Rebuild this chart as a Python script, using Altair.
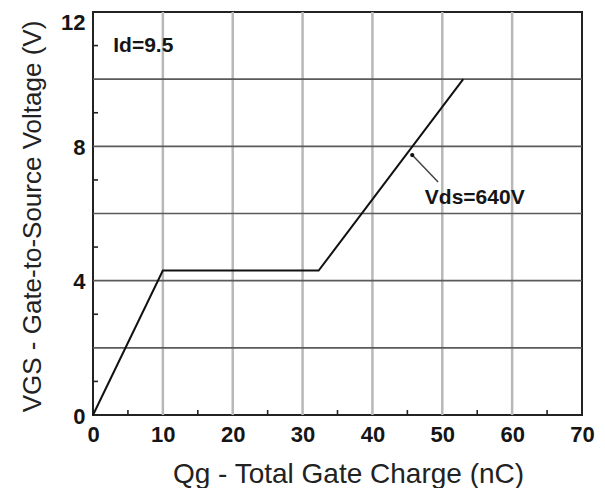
import altair as alt
import pandas as pd

# ---- data ----
qg = [0, 10, 32.3, 53]          # nC
vgs = [0, 4.3, 4.3, 10]         # V

x_ticks = [0, 10, 20, 30, 40, 50, 60, 70]
y_ticks = [0, 4, 8, 12]
x_grid = [10, 20, 30, 40, 50, 60]
y_grid = [2, 4, 6, 8, 10]
x_minor = [5, 15, 25, 35, 45, 55, 65]
y_minor = [1, 3, 5, 7, 9, 11]

ann_text = ["Id=9.5", "Vds=640V"]
ann_x = [2.9, 47.5]
ann_y = [11.0, 6.46]

leader_x = [49.4, 45.7]
leader_y = [6.94, 7.74]

FONT = "Liberation Sans"
W, H = 489, 403
TICK = 5

xs = alt.Scale(domain=[0, 70], nice=False, zero=False)
ys = alt.Scale(domain=[0, 12], nice=False, zero=False)

AX = alt.Axis(values=x_ticks, title="Qg - Total Gate Charge (nC)",
              grid=False, ticks=False, domain=False,
              labelFont=FONT, labelFontSize=22, labelFontWeight="bold",
              labelColor="#151515", labelPadding=9, labelFlush=False,
              titleFont=FONT, titleFontSize=28, titleFontWeight="normal",
              titleColor="#222", titleX=255, titleY=67,
              titleBaseline="alphabetic")
AY = alt.Axis(values=y_ticks, title="VGS - Gate-to-Source Voltage (V)",
              grid=False, ticks=False, domain=False,
              labelFont=FONT, labelFontSize=22, labelFontWeight="bold",
              labelColor="#151515", labelPadding=8, labelFlush=False,
              labelOffset={"expr": "datum.value == 12 ? 10 : 1"},
              titleFont=FONT, titleFontSize=26, titleFontWeight="normal",
              titleColor="#222", titleX=-53, titleY=204, titleAngle=270,
              titleBaseline="alphabetic")


def X(f):
    return alt.X(f, scale=xs, axis=AX)


def Y(f):
    return alt.Y(f, scale=ys, axis=AY)


curve_df = pd.DataFrame({"qg": qg, "vgs": vgs})
xg_df = pd.DataFrame({"x": x_grid})
yg_df = pd.DataFrame({"y": y_grid})
xm_df = pd.DataFrame({"x": x_minor})
ym_df = pd.DataFrame({"y": y_minor})
ann_df = pd.DataFrame({"t": ann_text, "x": ann_x, "y": ann_y})
lead_df = pd.DataFrame({"x": [leader_x[0]], "y": [leader_y[0]],
                        "x2": [leader_x[1]], "y2": [leader_y[1]]})
dot_df = pd.DataFrame({"x": [leader_x[1]], "y": [leader_y[1]]})

vgrid = alt.Chart(xg_df).mark_rule(color="#b8b8b8", strokeWidth=2.5).encode(
    x=X("x:Q"))
hgrid = alt.Chart(yg_df).mark_rule(color="#5a5a5a", strokeWidth=1.6).encode(
    y=Y("y:Q"))

xminor = alt.Chart(xm_df).mark_rule(color="#222", strokeWidth=1.6).encode(
    x=X("x:Q"), y=alt.value(H), y2=alt.value(H - TICK))
yminor = alt.Chart(ym_df).mark_rule(color="#222", strokeWidth=1.6).encode(
    y=Y("y:Q"), x=alt.value(0), x2=alt.value(TICK))

curve = alt.Chart(curve_df).mark_line(color="#111", strokeWidth=2).encode(
    x=X("qg:Q"), y=Y("vgs:Q"), order=alt.Order("qg:Q"))

leader = alt.Chart(lead_df).mark_rule(color="#444", strokeWidth=1.5).encode(
    x=X("x:Q"), y=Y("y:Q"), x2="x2:Q", y2="y2:Q")
dot = alt.Chart(dot_df).mark_point(filled=True, size=18, color="#111", opacity=1).encode(
    x=X("x:Q"), y=Y("y:Q"))

labels = alt.Chart(ann_df).mark_text(font=FONT, fontSize=21, fontWeight="bold",
                                     align="left", baseline="middle",
                                     color="#151515").encode(
    x=X("x:Q"), y=Y("y:Q"), text="t:N")

chart = alt.layer(vgrid, hgrid, xminor, yminor, leader, dot, curve, labels).properties(
    width=W, height=H,
    autosize=alt.AutoSizeParams(type="none"),
    padding={"left": 85, "top": 4, "right": 15, "bottom": 76},
    background="white",
).configure_view(stroke="#222", strokeWidth=2)

chart.save("out.html", embed_options={"renderer": "svg", "actions": False})
